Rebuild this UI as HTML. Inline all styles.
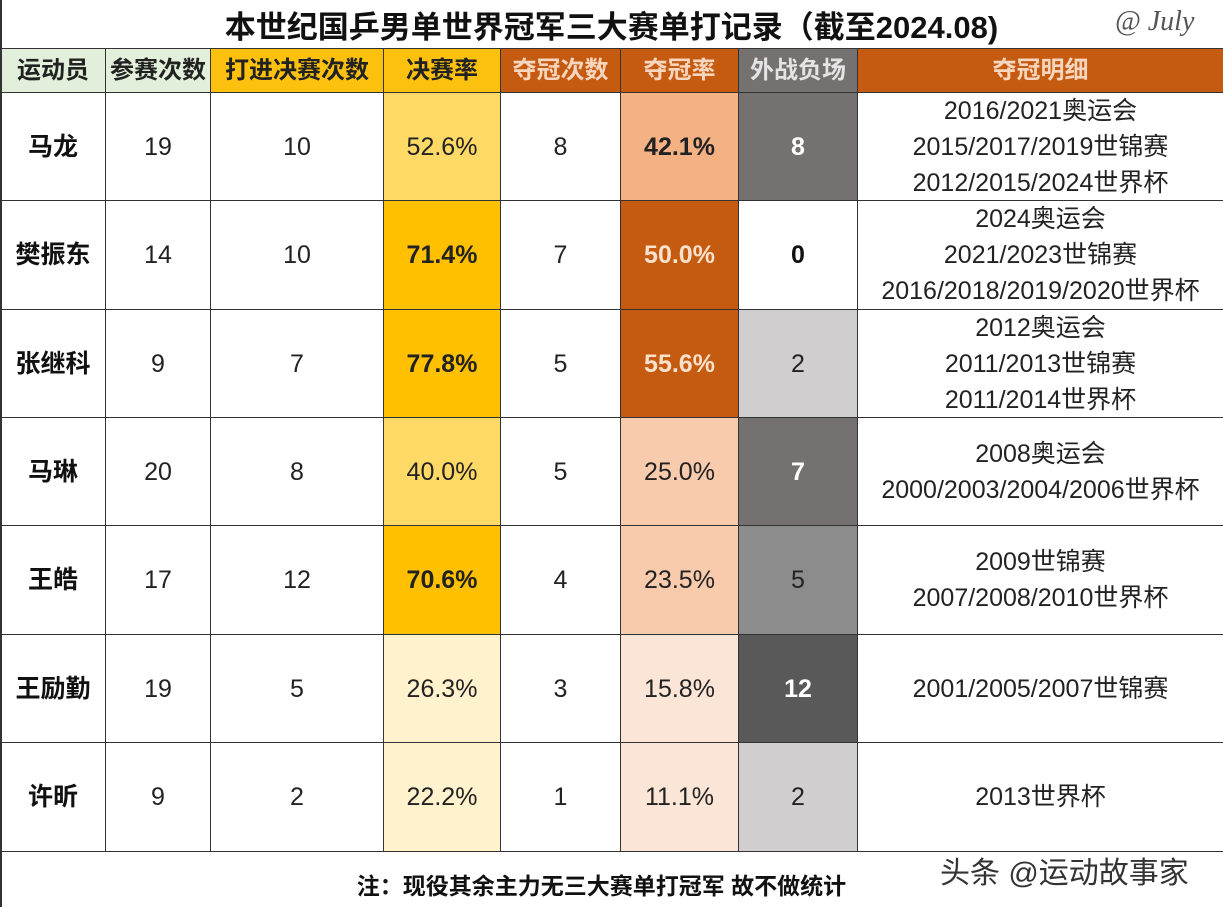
<!DOCTYPE html>
<html><head><meta charset="utf-8"><style>
body{margin:0;width:1223px;height:907px;background:#fff;position:relative;overflow:hidden;font-family:"Liberation Sans","Noto Sans CJK SC",sans-serif;}
.c{position:absolute;box-sizing:border-box;border:1px solid #333;display:flex;align-items:center;justify-content:center;text-align:center;color:#222;font-size:25px;line-height:36px;flex-direction:column}
.h{font-weight:bold;font-size:24px}
</style></head><body>
<div style="position:absolute;left:0;top:2px;width:1223px;text-align:center;font-weight:bold;font-size:31px;color:#111">本世纪国乒男单世界冠军三大赛单打记录（截至2024.08)</div>
<div style="position:absolute;left:1115px;top:6px;font-family:'Liberation Serif',serif;font-style:italic;font-size:28px;color:#555">@ July</div>
<div id="t"></div>
<div style="position:absolute;left:0;top:867px;width:1223px;text-align:center;font-weight:bold;font-size:23px;color:#111;padding-right:20px;box-sizing:border-box">注：现役其余主力无三大赛单打冠军 故不做统计</div>
<div style="position:absolute;left:940px;top:848px;font-size:30px;color:#333;text-shadow:0 0 3px #fff,0 0 2px #fff">头条 @运动故事家</div>
<div style="position:absolute;left:0;top:0;width:2px;height:907px;background:#333"></div>
<script>
const headers=["运动员","参赛次数","打进决赛次数","决赛率","夺冠次数","夺冠率","外战负场","夺冠明细"];
const players=["马龙","樊振东","张继科","马琳","王皓","王励勤","许昕"];
const entries=[19,14,9,20,17,19,9];
const finals=[10,10,7,8,12,5,2];
const finalRate=["52.6%","71.4%","77.8%","40.0%","70.6%","26.3%","22.2%"];
const titles=[8,7,5,5,4,3,1];
const titleRate=["42.1%","50.0%","55.6%","25.0%","23.5%","15.8%","11.1%"];
const losses=[8,0,2,7,5,12,2];
const details=[["2016/2021奥运会","2015/2017/2019世锦赛","2012/2015/2024世界杯"],["2024奥运会","2021/2023世锦赛","2016/2018/2019/2020世界杯"],["2012奥运会","2011/2013世锦赛","2011/2014世界杯"],["2008奥运会","2000/2003/2004/2006世界杯"],["2009世锦赛","2007/2008/2010世界杯"],["2001/2005/2007世锦赛"],["2013世界杯"]];
const xs=[0,105,210,383,500,620,738,857,1223];
const ys=[48,92,200,309,417,525,634,742,851];
const t=document.getElementById('t');
function cell(col,row,html,bg,color,bold,name){
  const d=document.createElement('div');
  d.className='c'+(row<0?' h':'');
  
  
  const y0=ys[row+1],y1=ys[row+2];
  d.style.left=xs[col]+'px';d.style.top=y0+'px';
  d.style.width=(xs[col+1]-xs[col]+1)+'px';d.style.height=(y1-y0+1)+'px';
  d.style.background=bg;d.style.color=color;if(bold)d.style.fontWeight='bold';
  d.innerHTML=html;t.appendChild(d);
}
const hbg=["#e2efda","#e2efda","#fcc10e","#fcc10e","#c55a11","#c55a11","#767171","#c55a11"];
const hfg=["#222","#222","#222","#222","#f8d5bd","#f8d5bd","#e4e4e4","#f8d5bd"];
headers.forEach((h,i)=>cell(i,-1,h,hbg[i],hfg[i],true,'header-'+i));
function frStyle(v){v=parseFloat(v);if(v>=60)return["#ffc000","#222",true];if(v>=35)return["#ffd966","#222",false];return["#fff2cc","#222",false];}
function trStyle(v){v=parseFloat(v);if(v>=45)return["#c55a11","#fbe0cc",true];if(v>=35)return["#f4b183","#222",true];if(v>=20)return["#f8cbad","#222",false];return["#fbe5d6","#222",false];}
function lsStyle(v){if(v>=10)return["#595959","#fff",true];if(v>=6)return["#767171","#fff",true];if(v>=4)return["#8c8c8c","#222",false];if(v>=1)return["#d0cece","#222",false];return["#fff","#111",true];}
players.forEach((p,r)=>{
  cell(0,r,p,"#fff","#111",true,'player-name');
  cell(1,r,entries[r],"#fff","#222",false,'entries');
  cell(2,r,finals[r],"#fff","#222",false,'finals');
  let s=frStyle(finalRate[r]);cell(3,r,finalRate[r],s[0],s[1],s[2],'final-rate');
  cell(4,r,titles[r],"#fff","#222",false,'titles');
  s=trStyle(titleRate[r]);cell(5,r,titleRate[r],s[0],s[1],s[2],'title-rate');
  s=lsStyle(losses[r]);cell(6,r,losses[r],s[0],s[1],s[2],'foreign-losses');
  cell(7,r,details[r].map(x=>'<div>'+x+'</div>').join(''),"#fff","#222",false,'title-details');
});
</script>
</body></html>
